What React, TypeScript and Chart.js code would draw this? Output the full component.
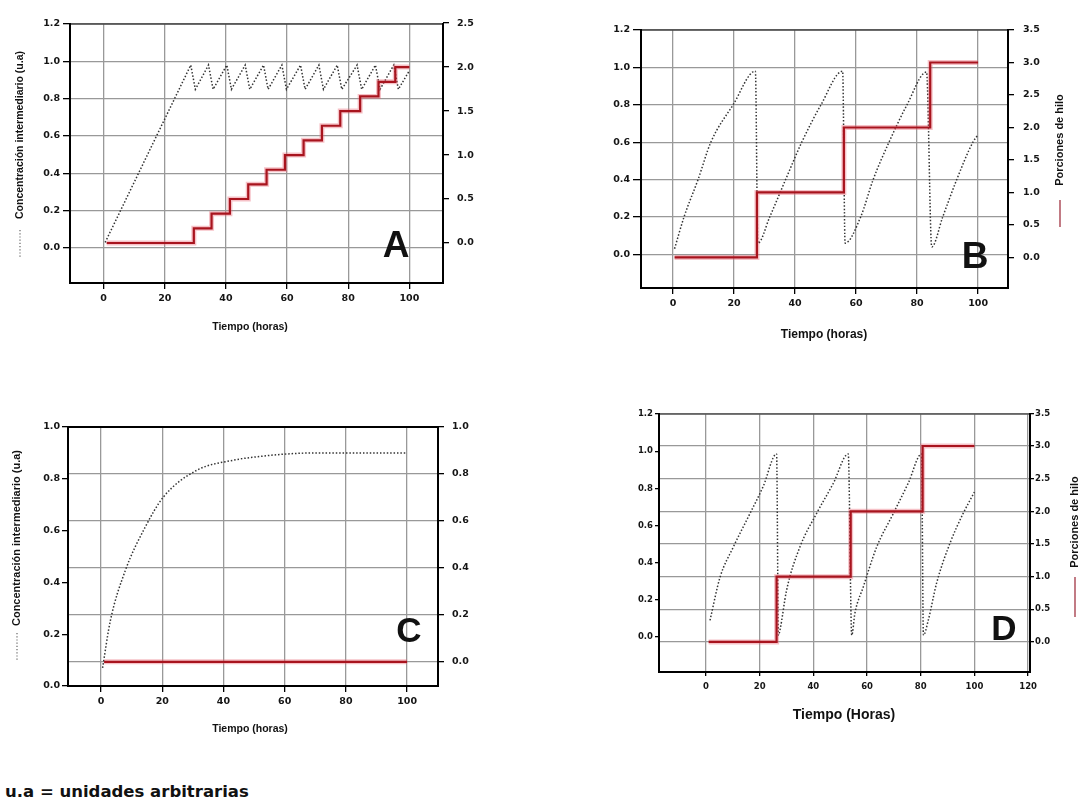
import React, { useEffect, useRef } from 'react';
import { Chart, registerables } from 'chart.js';

Chart.register(...registerables);

// ---------------- data ----------------
const X_TICKS = [0, 20, 40, 60, 80, 100];
const X_TICKS_D = [0, 20, 40, 60, 80, 100, 120];
const CONC_TICKS = [0, 0.2, 0.4, 0.6, 0.8, 1.0, 1.2];
const CONC_TICKS_C = [0, 0.2, 0.4, 0.6, 0.8, 1.0];
const HILO_TICKS_A = [0, 0.5, 1.0, 1.5, 2.0, 2.5];
const HILO_TICKS_BD = [0, 0.5, 1.0, 1.5, 2.0, 2.5, 3.0, 3.5];
const RIGHT_TICKS_C = [0, 0.2, 0.4, 0.6, 0.8, 1.0];

// Panel A
const A_CONC_T = [0.5, 28.5, 30, 34.3, 35.8, 40.3, 41.8, 46.3, 47.8, 52.3, 53.8, 58.3, 59.8, 64.4, 65.9, 70.4, 71.9, 76.4, 77.9, 82.9, 84.4, 88.9, 90.4, 94.9, 96.4, 100];
const A_CONC = [0.03, 0.98, 0.85, 0.98, 0.85, 0.98, 0.85, 0.98, 0.85, 0.98, 0.85, 0.98, 0.85, 0.98, 0.85, 0.98, 0.85, 0.98, 0.85, 0.98, 0.85, 0.98, 0.85, 0.98, 0.85, 0.95];
const A_HILO_T = [1, 29.5, 35.3, 41.3, 47.3, 53.3, 59.3, 65.4, 71.4, 77.4, 83.9, 89.9, 95.4, 100];
const A_HILO = [0, 0.167, 0.333, 0.5, 0.667, 0.833, 1.0, 1.167, 1.333, 1.5, 1.667, 1.833, 2.0, 2.0];

// Panel B
const B_CONC_T = [0.5, 3.6, 8.2, 12.4, 19.7, 27.0, 27.8, 31.7, 36.9, 42.2, 48.5, 55.6, 56.4, 61.5, 65.6, 70.8, 76.7, 83.1, 84.8, 88.4, 93.0, 98.3, 100];
const B_CONC = [0.03, 0.2, 0.4, 0.6, 0.8, 0.98, 0.06, 0.2, 0.4, 0.6, 0.8, 0.98, 0.06, 0.2, 0.4, 0.6, 0.8, 0.975, 0.04, 0.2, 0.4, 0.6, 0.64];
const B_HILO_T = [0.5, 27.5, 56.0, 84.3, 100];
const B_HILO = [0, 1, 2, 3, 3];

// Panel C
const C_CONC_T = [0.5, 3, 7.9, 14.4, 20.4, 31.3, 43.3, 51, 59.7, 70, 80, 100];
const C_CONC = [0.07, 0.25, 0.445, 0.613, 0.73, 0.833, 0.872, 0.885, 0.895, 0.9, 0.9, 0.9];
const C_HILO_T = [1, 100];
const C_HILO = [0, 0];

// Panel D
const D_CONC_T = [1.5, 5.2, 10.2, 16.4, 21.3, 26.3, 27.0, 27.6, 30.0, 35.0, 41.2, 47.4, 53.0, 54.3, 55.5, 58.6, 63.6, 69.8, 75.4, 80.3, 81.0, 82.8, 85.9, 90.9, 95.8, 100];
const D_CONC = [0.09, 0.32, 0.485, 0.665, 0.81, 0.985, 0.01, 0.04, 0.25, 0.485, 0.665, 0.826, 0.985, 0.01, 0.13, 0.27, 0.485, 0.665, 0.83, 0.985, 0.01, 0.09, 0.29, 0.505, 0.665, 0.78];
const D_HILO_T = [1, 26.3, 53.9, 80.7, 100];
const D_HILO = [0, 1, 2, 3, 3];

// ---------------- styles ----------------
const FONT = '"Liberation Sans", Arial, Helvetica, sans-serif';
const WIDE = '"DejaVu Sans", Verdana, sans-serif';
const GRID = '#999999';
const TICK_COLOR = '#151515';
const RED = '#a8141e';
const RED_HALO = 'rgba(232,100,115,0.40)';
const DOT = '#333333';

const zip = (xs: number[], ys: number[]) => xs.map((x, i) => ({ x, y: ys[i] }));

type Txt = { text: string; x: number; y: number; font: string; rot?: number; baseline?: CanvasTextBaseline };
type Mark = { x: number; y1: number; y2: number; color: string; dash: number[]; width: number };

type PanelSpec = {
  left: number; top: number; w: number; h: number;
  area: { l: number; r: number; t: number; b: number };
  x: { min: number; max: number; ticks: number[]; tl: number; pad: number };
  y: { min: number; max: number; ticks: number[]; tl: number; pad: number; grid: boolean };
  y2: { min: number; max: number; ticks: number[]; tl: number; pad: number; grid: boolean };
  tickSize: number;
  conc: { t: number[]; v: number[]; smooth: boolean };
  hilo: { t: number[]; v: number[] };
  texts: Txt[];
  marks: Mark[];
  topBorder: { color: string; width: number };
};

const PANELS: PanelSpec[] = [
  {
    left: 0, top: 0, w: 540, h: 345,
    area: { l: 70, r: 443, t: 24, b: 283 },
    x: { min: -11, max: 111, ticks: X_TICKS, tl: 6, pad: 4 },
    y: { min: -0.1875, max: 1.2, ticks: CONC_TICKS, tl: 7, pad: 3, grid: true },
    y2: { min: -0.455, max: 2.49, ticks: HILO_TICKS_A, tl: 6, pad: 8, grid: false },
    tickSize: 9.5,
    conc: { t: A_CONC_T, v: A_CONC, smooth: false },
    hilo: { t: A_HILO_T, v: A_HILO },
    texts: [
      { text: 'Concentración intermediario (u.a)', x: 20, y: 135, rot: -90, font: `bold 10.5px ${FONT}` },
      { text: 'Tiempo (horas)', x: 250, y: 327, font: `bold 10.5px ${FONT}` },
      { text: 'A', x: 396, y: 257, font: `bold 37px ${FONT}`, baseline: 'alphabetic' },
    ],
    marks: [{ x: 20, y1: 230, y2: 258, color: '#666', dash: [1.2, 2], width: 1.2 }],
    topBorder: { color: '#444', width: 1.3 },
  },
  {
    left: 540, top: 0, w: 539, h: 350,
    area: { l: 641, r: 1008, t: 30, b: 288 },
    x: { min: -10.5, max: 109.8, ticks: X_TICKS, tl: 6, pad: 4 },
    y: { min: -0.18, max: 1.2, ticks: CONC_TICKS, tl: 8, pad: 3, grid: true },
    y2: { min: -0.47, max: 3.5, ticks: HILO_TICKS_BD, tl: 6, pad: 9, grid: false },
    tickSize: 9.5,
    conc: { t: B_CONC_T, v: B_CONC, smooth: true },
    hilo: { t: B_HILO_T, v: B_HILO },
    texts: [
      { text: 'Porciones de hilo', x: 1060, y: 140, rot: -90, font: `bold 11px ${FONT}` },
      { text: 'Tiempo (horas)', x: 824, y: 335, font: `bold 12px ${FONT}` },
      { text: 'B', x: 975, y: 268, font: `bold 37px ${FONT}`, baseline: 'alphabetic' },
    ],
    marks: [{ x: 1060, y1: 200, y2: 227, color: '#b35a66', dash: [], width: 1.6 }],
    topBorder: { color: '#444', width: 1.3 },
  },
  {
    left: 0, top: 380, w: 540, h: 380,
    area: { l: 68, r: 438, t: 427, b: 686 },
    x: { min: -10.8, max: 110.1, ticks: X_TICKS, tl: 6, pad: 4 },
    y: { min: 0, max: 1.0, ticks: CONC_TICKS_C, tl: 6, pad: 2, grid: false },
    y2: { min: -0.103, max: 1.0, ticks: RIGHT_TICKS_C, tl: 6, pad: 8, grid: true },
    tickSize: 9.5,
    conc: { t: C_CONC_T, v: C_CONC, smooth: true },
    hilo: { t: C_HILO_T, v: C_HILO },
    texts: [
      { text: 'Concentración intermediario (u.a)', x: 17, y: 538, rot: -90, font: `bold 11px ${FONT}` },
      { text: 'Tiempo (horas)', x: 250, y: 729, font: `bold 10.5px ${FONT}` },
      { text: 'C', x: 409, y: 642, font: `bold 35px ${FONT}`, baseline: 'alphabetic' },
    ],
    marks: [{ x: 17, y1: 633, y2: 660, color: '#666', dash: [1.2, 2], width: 1.2 }],
    topBorder: { color: '#000', width: 2.2 },
  },
  {
    left: 540, top: 380, w: 539, h: 360,
    area: { l: 659, r: 1030, t: 414, b: 672 },
    x: { min: -17.5, max: 120.7, ticks: X_TICKS_D, tl: 4, pad: 6 },
    y: { min: -0.188, max: 1.2, ticks: CONC_TICKS, tl: 4, pad: 2, grid: false },
    y2: { min: -0.46, max: 3.49, ticks: HILO_TICKS_BD, tl: 4, pad: 1, grid: true },
    tickSize: 8.5,
    conc: { t: D_CONC_T, v: D_CONC, smooth: true },
    hilo: { t: D_HILO_T, v: D_HILO },
    texts: [
      { text: 'Porciones de hilo', x: 1075, y: 522, rot: -90, font: `bold 11px ${FONT}` },
      { text: 'Tiempo (Horas)', x: 844, y: 715, font: `bold 14px ${FONT}` },
      { text: 'D', x: 1004, y: 640, font: `bold 35px ${FONT}`, baseline: 'alphabetic' },
    ],
    marks: [{ x: 1075, y1: 577, y2: 617, color: '#b35a66', dash: [], width: 1.6 }],
    topBorder: { color: '#555', width: 1.3 },
  },
];

function decorPlugin(p: PanelSpec) {
  return {
    id: 'decor',
    afterDraw(chart: any) {
      const { ctx, chartArea: a } = chart;
      ctx.save();
      ctx.setLineDash([]);
      // top border
      ctx.strokeStyle = p.topBorder.color;
      ctx.lineWidth = p.topBorder.width;
      ctx.beginPath();
      ctx.moveTo(a.left, a.top);
      ctx.lineTo(a.right, a.top);
      ctx.stroke();
      // left, bottom, right borders
      ctx.strokeStyle = '#000';
      ctx.lineWidth = 2;
      ctx.lineCap = 'square';
      ctx.beginPath();
      ctx.moveTo(a.left, a.top);
      ctx.lineTo(a.left, a.bottom);
      ctx.lineTo(a.right, a.bottom);
      ctx.lineTo(a.right, a.top);
      ctx.stroke();
      ctx.lineCap = 'butt';
      // legend marks beside axis titles
      for (const m of p.marks) {
        ctx.strokeStyle = m.color;
        ctx.lineWidth = m.width;
        ctx.setLineDash(m.dash);
        ctx.beginPath();
        ctx.moveTo(m.x - p.left, m.y1 - p.top);
        ctx.lineTo(m.x - p.left, m.y2 - p.top);
        ctx.stroke();
      }
      ctx.setLineDash([]);
      // texts
      ctx.fillStyle = '#111';
      for (const t of p.texts) {
        ctx.save();
        ctx.translate(t.x - p.left, t.y - p.top);
        if (t.rot) ctx.rotate((t.rot * Math.PI) / 180);
        ctx.font = t.font;
        ctx.textAlign = 'center';
        ctx.textBaseline = t.baseline || 'middle';
        ctx.fillText(t.text, 0, 0);
        ctx.restore();
      }
      ctx.restore();
    },
  };
}

function buildConfig(p: PanelSpec): any {
  const leftW = p.area.l - p.left;
  const rightW = p.left + p.w - p.area.r;
  const topPad = p.area.t - p.top;
  const bottomH = p.top + p.h - p.area.b;
  const tickFont = { family: WIDE, size: p.tickSize, weight: 'bold' as const };

  const yAxis = (pos: 'left' | 'right', ax: PanelSpec['y'], width: number) => ({
    type: 'linear',
    position: pos,
    min: ax.min,
    max: ax.max,
    afterBuildTicks: (s: any) => {
      s.ticks = ax.ticks.map((v) => ({ value: v }));
    },
    afterFit: (s: any) => {
      s.width = width;
    },
    ticks: {
      font: tickFont,
      color: TICK_COLOR,
      padding: ax.pad,
      autoSkip: false,
      callback: (v: any) => Number(v).toFixed(1),
    },
    grid: {
      drawOnChartArea: ax.grid,
      color: GRID,
      lineWidth: 1.3,
      tickColor: '#000',
      tickWidth: 1.3,
      tickLength: ax.tl,
    },
    border: { display: false },
  });

  return {
    type: 'line',
    data: {
      datasets: [
        {
          data: zip(p.hilo.t, p.hilo.v),
          yAxisID: 'y2',
          borderColor: RED,
          borderWidth: 2.2,
          stepped: 'before',
          pointRadius: 0,
          fill: false,
        },
        {
          data: zip(p.hilo.t, p.hilo.v),
          yAxisID: 'y2',
          borderColor: RED_HALO,
          borderWidth: 5,
          stepped: 'before',
          pointRadius: 0,
          fill: false,
        },
        {
          data: zip(p.conc.t, p.conc.v),
          yAxisID: 'y',
          borderColor: DOT,
          borderWidth: 1.5,
          borderDash: [1.5, 1.9],
          pointRadius: 0,
          fill: false,
          tension: 0,
          cubicInterpolationMode: p.conc.smooth ? 'monotone' : 'default',
        },
      ],
    },
    options: {
      animation: false,
      responsive: false,
      maintainAspectRatio: false,
      events: [],
      layout: { padding: { top: topPad, left: 0, right: 0, bottom: 0 } },
      plugins: { legend: { display: false }, tooltip: { enabled: false }, title: { display: false } },
      scales: {
        x: {
          type: 'linear',
          position: 'bottom',
          min: p.x.min,
          max: p.x.max,
          afterBuildTicks: (s: any) => {
            s.ticks = p.x.ticks.map((v) => ({ value: v }));
          },
          afterFit: (s: any) => {
            s.height = bottomH;
          },
          ticks: {
            font: tickFont,
            color: TICK_COLOR,
            padding: p.x.pad,
            autoSkip: false,
            maxRotation: 0,
            minRotation: 0,
            callback: (v: any) => String(v),
          },
          grid: {
            drawOnChartArea: true,
            color: GRID,
            lineWidth: 1.3,
            tickColor: '#000',
            tickWidth: 1.3,
            tickLength: p.x.tl,
          },
          border: { display: false },
        },
        y: yAxis('left', p.y, leftW),
        y2: yAxis('right', p.y2, rightW),
      },
    },
    plugins: [decorPlugin(p)],
  };
}

function Panel({ spec }: { spec: PanelSpec }) {
  const ref = useRef<HTMLCanvasElement>(null);
  useEffect(() => {
    if (!ref.current) return;
    const chart = new Chart(ref.current, buildConfig(spec));
    return () => chart.destroy();
  }, [spec]);
  return (
    <canvas
      ref={ref}
      width={spec.w}
      height={spec.h}
      style={{ position: 'absolute', left: spec.left, top: spec.top, width: spec.w, height: spec.h }}
    />
  );
}

export default function App() {
  return (
    <div
      style={{
        position: 'absolute',
        left: 0,
        top: 0,
        width: 1079,
        height: 800,
        overflow: 'hidden',
        background: '#fff',
      }}
    >
      {PANELS.map((p, i) => (
        <Panel key={i} spec={p} />
      ))}
      <div
        style={{
          position: 'absolute',
          left: 5,
          top: 784,
          fontFamily: WIDE,
          fontWeight: 'bold',
          fontSize: 16.5,
          lineHeight: '16px',
          color: '#111',
          whiteSpace: 'nowrap',
        }}
      >
        u.a = unidades arbitrarias
      </div>
    </div>
  );
}
